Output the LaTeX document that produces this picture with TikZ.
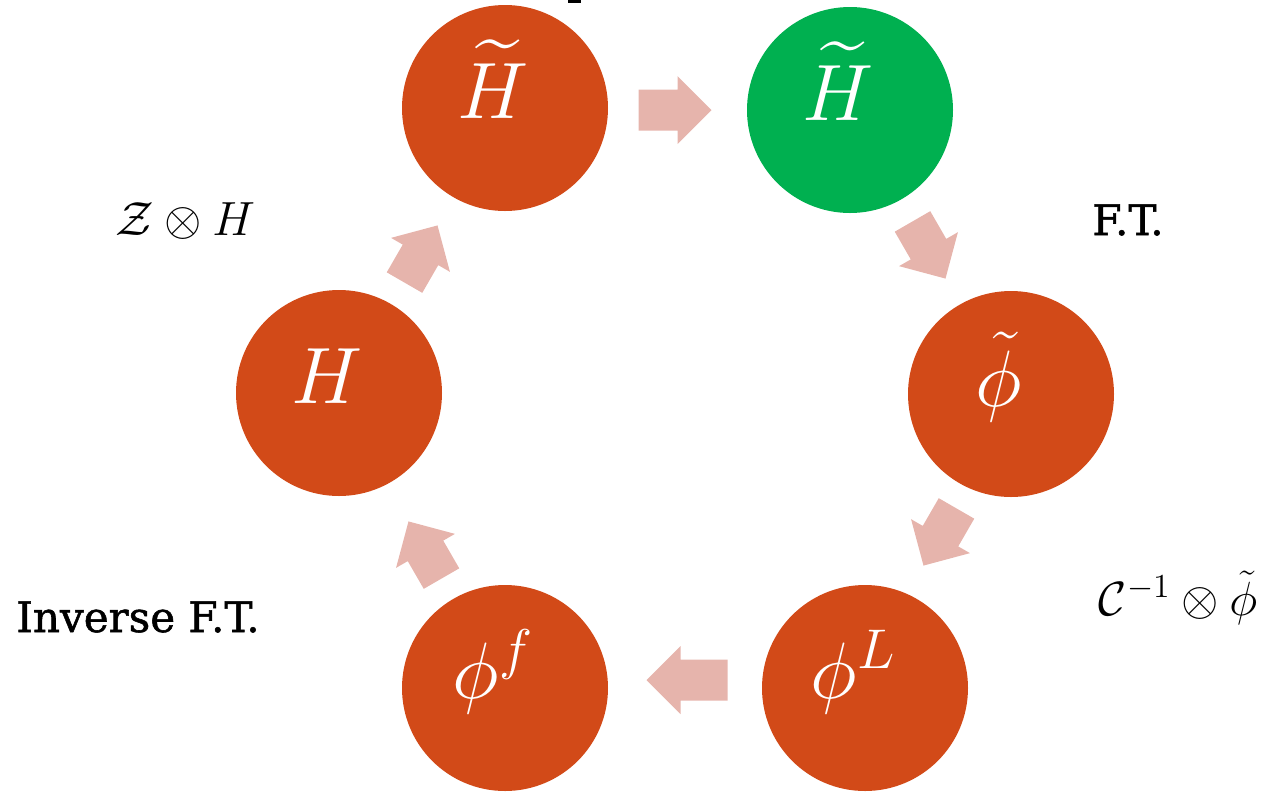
\RequirePackage{fix-cm}
\documentclass[tikz,border=0pt]{standalone}
\usepackage{amsmath,amssymb}
\usepackage{fontspec}
\newfontfamily\labelfont{DejaVu Serif}[FakeBold=1.3]
\definecolor{orb}{RGB}{210,74,24}
\definecolor{orbgreen}{RGB}{0,176,80}
\definecolor{arrowfill}{RGB}{230,180,172}
\tikzset{
  orbnode/.style={circle,fill=orb,draw=none,minimum size=103pt,inner sep=0pt},
  greenorb/.style={orbnode,fill=orbgreen},
  orbtext/.style={text=white,anchor=base,inner sep=0pt,font=\fontsize{40}{48}\selectfont},
  mathlabel/.style={anchor=base,inner sep=0pt,font=\fontsize{24}{29}\selectfont},
  textlabel/.style={anchor=base,inner sep=0pt,font=\labelfont\fontsize{21}{25}\selectfont},
  pics/blockarrow/.style={code={
    \fill[arrowfill] ({-#1/2},-20.5) -- ({#1/2-34},-20.5) -- ({#1/2-34},-34) -- ({#1/2},0)
      -- ({#1/2-34},34) -- ({#1/2-34},20.5) -- ({-#1/2},20.5) -- cycle;}}
}
\begin{document}
\begin{tikzpicture}[x=0.5pt,y=-0.5pt]
\useasboundingbox (0,0) rectangle (1281,794);
% fragment of cut-off title
\fill[black] (568,0) rectangle (581,3);
% circles
\node[orbnode]   (c1) at (505,108) {};
\node[greenorb]  (c2) at (850,110) {};
\node[orbnode]   (c3) at (1011,394) {};
\node[orbnode]   (c4) at (865,688) {};
\node[orbnode]   (c5) at (505,688) {};
\node[orbnode]   (c6) at (339,393) {};
% circle texts
\node[orbtext] (t1) at (493,118) {$\widetilde{H}$};
\node[orbtext] (t2) at (838,120) {$\widetilde{H}$};
\node[orbtext] (t3) at (999,406) {$\tilde{\phi}$};
\node[orbtext] (t4) at (853,698) {$\phi^{L}$};
\node[orbtext] (t5) at (493,698) {$\phi^{f}$};
\node[orbtext] (t6) at (327,403) {$H$};
% block arrows
\pic[rotate=0]    (a1) at (675,110) {blockarrow=73};
\pic[rotate=-60]  (a2) at (929,250) {blockarrow=66};
\pic[rotate=-120] (a3) at (940,537) {blockarrow=66};
\pic[rotate=180]  (a4) at (687,680) {blockarrow=81};
\pic[rotate=120]  (a5) at (425,550) {blockarrow=66};
\pic[rotate=60]   (a6) at (421,254) {blockarrow=66};
% labels
\node[mathlabel] (l1) at (185,235) {$\mathcal{Z}\otimes H$};
\node[textlabel] (l2) at (1128,235) {F.T.};
\node[mathlabel] (l3) at (1178,615) {$\mathcal{C}^{-1}\otimes\tilde{\phi}$};
\node[textlabel] (l4) at (138,632) {Inverse F.T.};
\end{tikzpicture}
\end{document}
